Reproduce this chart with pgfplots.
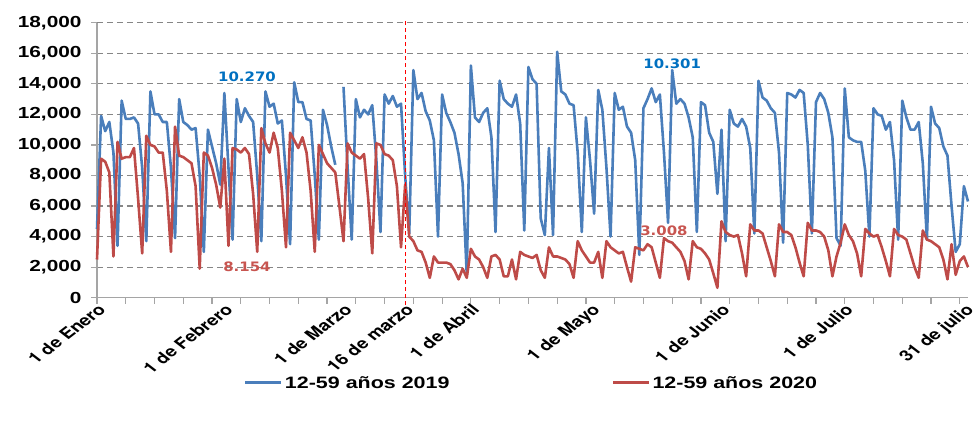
\documentclass[border=0pt]{standalone}
\usepackage{fontspec}
\setmainfont{Liberation Sans}[FakeStretch=1.3]
\newfontfamily\lblfont{TeX Gyre Heros}
\newfontfamily\annfont{DejaVu Sans}[FakeStretch=1.15]
\usepackage{graphicx}
\usepackage{pgfplots}
\usepackage{pgfplotstable}
\pgfplotsset{compat=1.18}
\definecolor{s19}{RGB}{74,126,187}
\definecolor{s20}{RGB}{190,75,72}
\definecolor{gridc}{RGB}{134,134,134}
\definecolor{axc}{RGB}{165,165,165}
\definecolor{annb}{RGB}{0,112,192}
\definecolor{annr}{RGB}{200,85,80}
\newcommand{\xl}[1]{\scalebox{1.3}[1]{\rotatebox{45}{#1}}}

\pgfplotstableread{
d v
0 4500
1 11900
2 10900
3 11500
4 9500
5 3400
6 12900
7 11700
8 11700
9 11800
10 11400
11 8500
12 3700
13 13500
14 12000
15 12000
16 11500
17 11500
18 8500
19 3900
20 13000
21 11500
22 11300
23 11000
24 11100
25 8000
26 3000
27 11000
28 9900
29 8800
30 7400
31 13400
32 8500
33 3800
34 13000
35 11500
36 12400
37 11900
38 11500
39 8000
40 3700
41 13500
42 12500
43 12700
44 11400
45 11600
46 8000
47 3500
48 14100
49 12800
50 12800
51 11700
52 11600
53 8000
54 3800
55 12300
56 11300
57 9900
58 8700
59 nan
60 13800
61 8500
62 3800
63 13000
64 11800
65 12300
66 12000
67 12600
68 9000
69 4300
70 13300
71 12700
72 13200
73 12500
74 12700
75 8000
76 4200
77 14900
78 13000
79 13400
80 12200
81 11600
82 10300
83 4000
84 13300
85 12100
86 11500
87 10800
88 9400
89 7500
90 1500
91 15200
92 11800
93 11500
94 12100
95 12400
96 10500
97 4300
98 14200
99 13000
100 12700
101 12500
102 13300
103 11400
104 4400
105 15100
106 14300
107 14000
108 5200
109 4100
110 9800
111 4100
112 16100
113 13500
114 13300
115 12700
116 12600
117 9500
118 4300
119 11800
120 9000
121 5500
122 13600
123 12300
124 8500
125 4000
126 13400
127 12300
128 12500
129 11200
130 10800
131 9000
132 2800
133 12400
134 13000
135 13700
136 12800
137 13300
138 9500
139 4900
140 14900
141 12700
142 13000
143 12700
144 11800
145 10500
146 4300
147 12800
148 12600
149 10800
150 10200
151 6800
152 11000
153 3700
154 12300
155 11400
156 11200
157 11700
158 11200
159 9800
160 4200
161 14200
162 13100
163 12900
164 12400
165 12100
166 9500
167 3600
168 13400
169 13300
170 13100
171 13600
172 13400
173 10000
174 4200
175 12800
176 13400
177 13000
178 12100
179 10500
180 3900
181 3400
182 13700
183 10500
184 10300
185 10200
186 10200
187 8300
188 4000
189 12400
190 12000
191 11900
192 11000
193 11500
194 9000
195 3800
196 12900
197 11800
198 11000
199 11000
200 11500
201 8800
202 3800
203 12500
204 11400
205 11100
206 9900
207 9300
208 6000
209 3000
210 3500
211 7300
212 6300
}\tblue

\pgfplotstableread{
d v
0 2500
1 9100
2 8900
3 8200
4 2700
5 10200
6 9100
7 9200
8 9200
9 9800
10 6500
11 2900
12 10600
13 10000
14 9900
15 9500
16 9500
17 7000
18 3000
19 11200
20 9300
21 9200
22 9000
23 8800
24 7300
25 1900
26 9500
27 9300
28 8500
29 7400
30 5900
31 9100
32 3400
33 9800
34 9700
35 9500
36 9800
37 9400
38 6800
39 3000
40 11100
41 10100
42 9500
43 10800
44 9800
45 7000
46 3300
47 10800
48 10300
49 9800
50 10500
51 9500
52 7000
53 3000
54 10000
55 9400
56 8800
57 8500
58 8200
59 6000
60 3700
61 10100
62 9500
63 9300
64 9100
65 9400
66 6500
67 2900
68 10100
69 10000
70 9400
71 9300
72 9000
73 7300
74 3300
75 7400
76 4000
77 3700
78 3100
79 3000
80 2300
81 1300
82 2700
83 2300
84 2300
85 2300
86 2200
87 1800
88 1200
89 1900
90 1300
91 3200
92 2700
93 2500
94 2000
95 1300
96 2700
97 2800
98 2500
99 1400
100 1400
101 2500
102 1200
103 3000
104 2800
105 2700
106 2600
107 2800
108 1800
109 1300
110 3300
111 2700
112 2700
113 2600
114 2500
115 2200
116 1300
117 3700
118 3100
119 2700
120 2300
121 2300
122 3000
123 1300
124 3700
125 3300
126 3100
127 2900
128 3000
129 2000
130 1050
131 3300
132 3200
133 3100
134 3500
135 3300
136 2300
137 1300
138 3900
139 3700
140 3600
141 3300
142 3000
143 2400
144 1200
145 3700
146 3300
147 3200
148 2900
149 2500
150 1600
151 650
152 5000
153 4300
154 4100
155 4000
156 4100
157 2900
158 1400
159 4800
160 4400
161 4400
162 4200
163 3300
164 2400
165 1400
166 4800
167 4300
168 4300
169 4100
170 3300
171 2300
172 1400
173 4900
174 4400
175 4400
176 4300
177 4000
178 3100
179 1400
180 2700
181 3600
182 4800
183 4100
184 3700
185 2900
186 1400
187 4500
188 4200
189 4000
190 4100
191 3300
192 2400
193 1400
194 4500
195 4100
196 4000
197 3800
198 2900
199 2000
200 1300
201 4400
202 3800
203 3700
204 3500
205 3300
206 2500
207 1200
208 3500
209 1500
210 2400
211 2700
212 2000
}\tred

\begin{document}
\begin{tikzpicture}
\path[use as bounding box] (-97bp,-125.3bp) rectangle (876bp,297.7bp);
\begin{axis}[
  at={(0,0)}, anchor=south west,
  scale only axis, width=871bp, height=275bp,
  xmin=0, xmax=212, ymin=0, ymax=18000,
  clip=false,
  axis x line*=bottom, axis y line*=left,
  axis line style={axc, line width=1.4bp},
  tick align=outside,
  major tick length=6bp,
  tick style={axc, line width=1.2bp},
  xtick={0,7,...,210}, xticklabels={},
  extra x ticks={0,31,60,75,91,121,152,182,212},
  extra x tick labels={\xl{1 de Enero},\xl{1 de Febrero},\xl{1 de Marzo},\xl{16 de marzo},\xl{1 de Abril},\xl{1 de Mayo},\xl{1 de Junio},\xl{1 de Julio},\xl{31 de julio}},
  extra x tick style={major tick length=0pt},
  xticklabel style={font=\lblfont\fontsize{15bp}{18bp}\selectfont\bfseries, anchor=north east, inner sep=0pt, xshift=10bp, yshift=-5bp},
  ytick={0,2000,...,18000},
  scaled y ticks=false,
  yticklabel style={font=\fontsize{16bp}{19bp}\selectfont\bfseries, xshift=-6bp, /pgf/number format/.cd, 1000 sep={,}, assume math mode=true},
  ymajorgrids,
  major grid style={gridc, dash pattern=on 6bp off 4bp, line width=1.1bp},
  unbounded coords=jump,
  legend style={at={(axis cs:35,-5583)}, anchor=west, draw=none, fill=none,
    legend columns=2, font=\fontsize{16.5bp}{19bp}\selectfont\bfseries},
  legend image code/.code={\draw[#1, line width=3bp] (0bp,0bp) -- (36bp,0bp);},
]
\addplot[s19, line width=2.6bp, line join=round] table[x=d, y=v] {\tblue};
\addlegendentry{12-59 años 2019\hspace*{160bp}}
\addplot[s20, line width=2.6bp, line join=round] table[x=d, y=v] {\tred};
\addlegendentry{12-59 años 2020}
\addplot[red, line width=1.2bp, dash pattern=on 4bp off 3bp, forget plot] coordinates {(75,-480) (75,18150)};
\node[font=\annfont\fontsize{13bp}{15bp}\selectfont\bfseries, text=annb] at (axis cs:36.5,14460) {10.270};
\node[font=\annfont\fontsize{13bp}{15bp}\selectfont\bfseries, text=annr] at (axis cs:36.5,2010) {8.154};
\node[font=\annfont\fontsize{13bp}{15bp}\selectfont\bfseries, text=annb] at (axis cs:140,15290) {10.301};
\node[font=\annfont\fontsize{13bp}{15bp}\selectfont\bfseries, text=annr] at (axis cs:138,4370) {3.008};
\end{axis}
\end{tikzpicture}
\end{document}
